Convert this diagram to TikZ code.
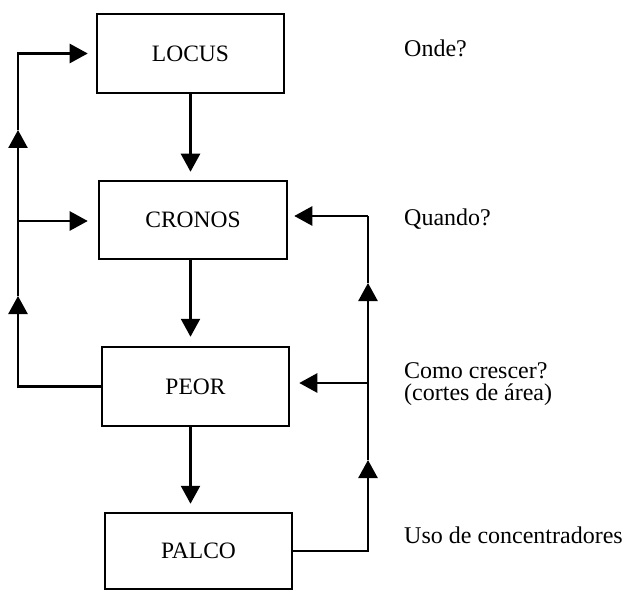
\documentclass[tikz,border=0pt]{standalone}
\usepackage{fontspec}
\setmainfont{Liberation Serif}
\usetikzlibrary{arrows.meta}
\begin{document}
\begin{tikzpicture}[x=1bp,y=-1bp,
  box/.style={draw,line width=2.5bp,minimum width=187bp,minimum height=79bp,inner sep=0pt,font=\fontsize{23.5bp}{27bp}\selectfont},
  lbl/.style={anchor=base west,inner sep=0pt,font=\fontsize{24bp}{27bp}\selectfont},
  wire/.style={line width=2.5bp},
  arr/.style={wire,-{Triangle[length=18bp,width=19bp]}},
]
\useasboundingbox (0,0) rectangle (624,590);
% boxes
\node[box] (locus) at (190.5,53.5) {LOCUS};
\node[box,minimum width=188bp,minimum height=78bp] (cronos) at (193,220) {CRONOS};
\node[box] (peor) at (195.5,386.5) {PEOR};
\node[box,minimum height=76bp] (palco) at (198.5,551) {PALCO};
% right labels
\node[lbl] (onde) at (404,57) {Onde?};
\node[lbl] (quando) at (404,225) {Quando?};
\node[lbl] (como) at (404,378) {Como crescer?};
\node[lbl] (cortes) at (404,400) {(cortes de área)};
\node[lbl] (uso) at (404,543) {Uso de concentradores};
% main downward flow
\draw[arr,shorten >=8bp] (locus.south) -- (locus.south |- cronos.north);
\draw[arr,shorten >=9bp] (locus.south |- cronos.south) -- (locus.south |- peor.north);
\draw[arr,shorten >=8bp] (locus.south |- peor.south) -- (locus.south |- palco.north);
% left feedback line
\coordinate (L1) at (18,296);
\coordinate (LJ) at (18,221);
\coordinate (L2) at (18,130);
\draw[arr] (peor.west) -| (L1);
\draw[wire] (L1) -- (LJ);
\draw[arr,shorten >=10bp] (LJ) -- (cronos.west |- LJ);
\draw[arr] (LJ) -- (L2);
\draw[arr,shorten >=8bp] (L2) |- (locus.west);
% right feedback line
\coordinate (R1) at (368,460);
\coordinate (RJ) at (368,383);
\coordinate (R2) at (368,283);
\coordinate (RT) at (368,216);
\draw[arr] (palco.east) -| (R1);
\draw[wire] (R1) -- (RJ);
\draw[arr,shorten >=9bp] (RJ) -- (peor.east |- RJ);
\draw[arr] (RJ) -- (R2);
\draw[wire] (R2) -- (RT);
\draw[arr,shorten >=6bp] (RT) -- (cronos.east |- RT);
\end{tikzpicture}
\end{document}
